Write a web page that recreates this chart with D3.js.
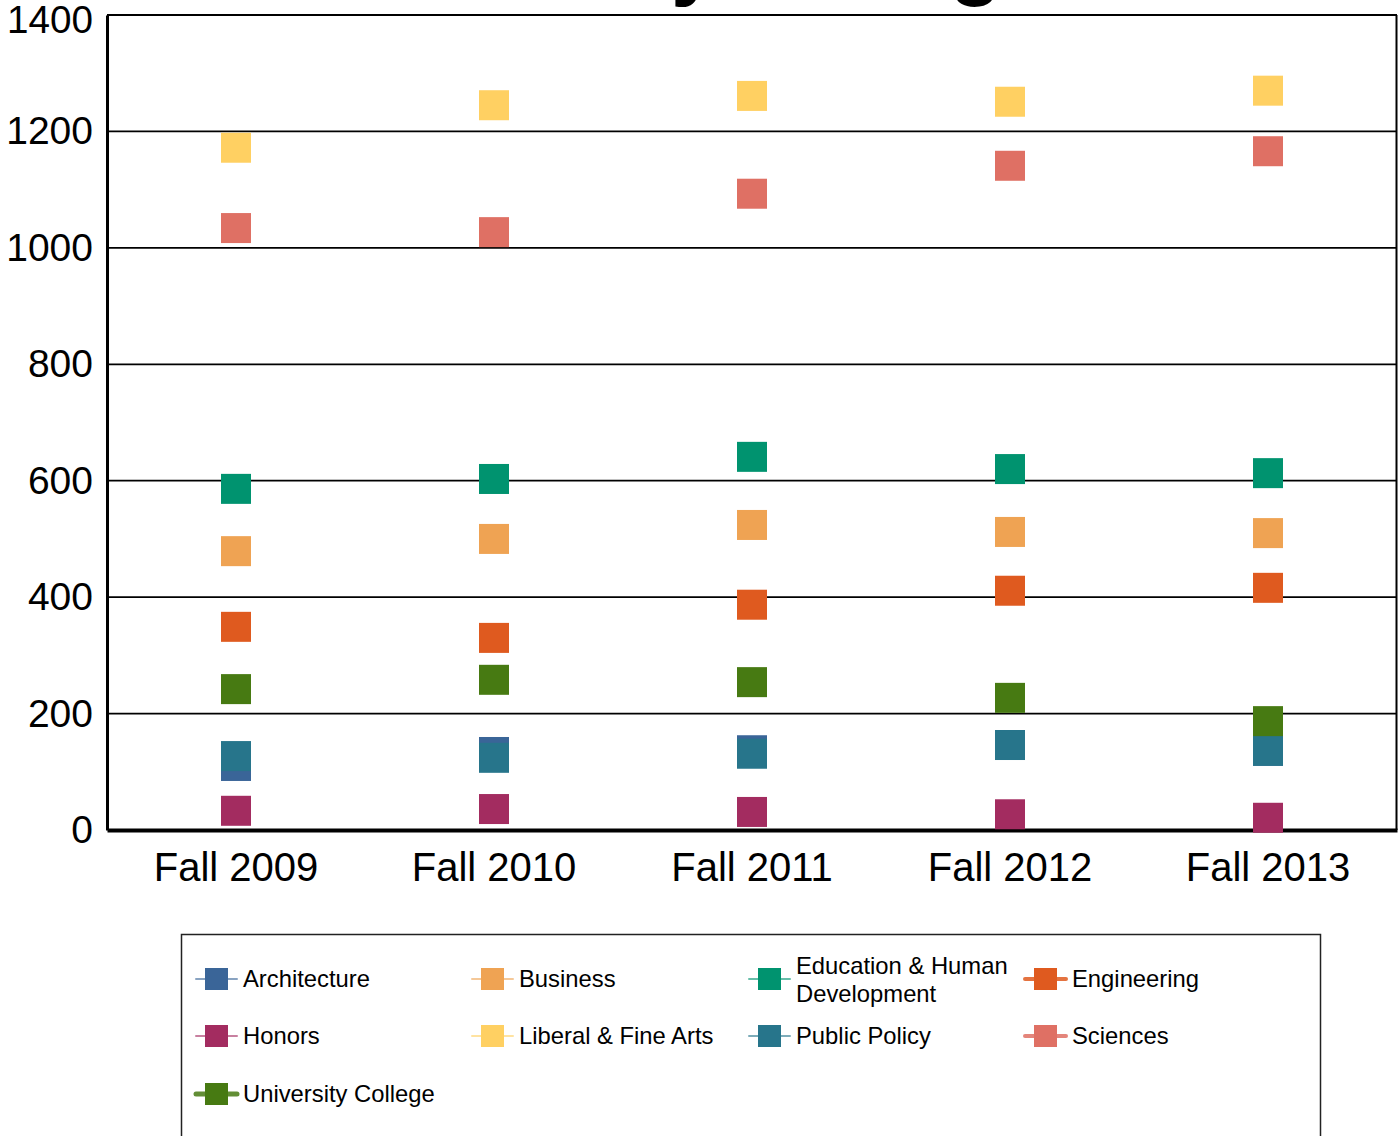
<!DOCTYPE html>
<html>
<head>
<meta charset="utf-8">
<script src="https://cdn.jsdelivr.net/npm/d3@7"></script>
<style>
  body { margin: 0; background: #fff; }
  text { font-family: "Liberation Sans", Arial, sans-serif; }
</style>
</head>
<body>
<div id="chart"></div>
<script>
// Chart data
var terms = ["Fall 2009", "Fall 2010", "Fall 2011", "Fall 2012", "Fall 2013"];
var yTicks = [0, 200, 400, 600, 800, 1000, 1200, 1400];

var architecture = [110, 134, 137, 146, 136];
var business     = [479, 500, 524, 512, 510];
var education    = [586, 603, 641, 620, 613];
var engineering  = [349, 330, 387, 411, 416];
var honors       = [33, 36, 31, 27, 21];
var liberalArts  = [1172, 1245, 1261, 1251, 1270];
var publicPolicy = [127, 124, 131, 146, 136];
var sciences     = [1034, 1027, 1093, 1141, 1166];
var univCollege  = [242, 258, 254, 227, 187];

var seriesNames  = ["Architecture", "Business", "Education & Human Development", "Engineering",
                    "Honors", "Liberal & Fine Arts", "Public Policy", "Sciences", "University College"];
var seriesValues = [architecture, business, education, engineering,
                    honors, liberalArts, publicPolicy, sciences, univCollege];
var seriesColors = ["#3a6598", "#efa353", "#00936f", "#df5a1f",
                    "#a32c60", "#ffd062", "#27758b", "#df7064", "#477a12"];
var legendLineWidth = [2, 2, 2, 4, 2, 2, 2, 4, 5];

var width = 1398, height = 1136;
var margin = { left: 107, right: 1, top: 15, bottom: 306 };

var svg = d3.select("#chart").append("svg")
    .attr("width", width)
    .attr("height", height);

var x = d3.scaleBand()
    .domain(terms)
    .range([margin.left, width - margin.right]);

var y = d3.scaleLinear()
    .domain([0, 1400])
    .range([height - margin.bottom, margin.top]);

// Title (mostly above the visible area, as in the original)
svg.append("text")
    .attr("x", 1049)
    .attr("y", -11)
    .attr("text-anchor", "end")
    .style("font-size", "85px")
    .style("font-weight", "bold")
    .text("Enrollment by College");

// Gridlines
svg.append("g")
    .selectAll("line")
    .data(yTicks.slice(1))
    .enter().append("line")
    .attr("x1", margin.left)
    .attr("x2", width - margin.right)
    .attr("y1", function (d) { return y(d); })
    .attr("y2", function (d) { return y(d); })
    .attr("stroke", "#000")
    .attr("stroke-width", 1.8);

// Right border
svg.append("line")
    .attr("x1", width - 1.5).attr("x2", width - 1.5)
    .attr("y1", y(1400)).attr("y2", y(0))
    .attr("stroke", "#000")
    .attr("stroke-width", 2);

// Y axis
var yAxis = svg.append("g")
    .attr("transform", "translate(" + margin.left + ",0)")
    .call(d3.axisLeft(y).tickValues(yTicks).tickFormat(d3.format("d")).tickSize(0).tickPadding(14));
yAxis.select(".domain").attr("stroke", "#000").attr("stroke-width", 3);
yAxis.selectAll("text")
    .style("font-size", "39px")
    .attr("fill", "#000")
    .attr("font-family", null);
// top label is squeezed a little in the original
yAxis.selectAll("text").filter(function (d) { return d === 1400; })
    .attr("textLength", 86).attr("lengthAdjust", "spacingAndGlyphs")
    .attr("dy", "0.45em");

// X axis
var xAxis = svg.append("g")
    .attr("transform", "translate(0," + y(0) + ")")
    .call(d3.axisBottom(x).tickSize(0).tickPadding(23));
xAxis.select(".domain").attr("stroke", "#000").attr("stroke-width", 4);
xAxis.selectAll("text")
    .style("font-size", "40px")
    .attr("fill", "#000")
    .attr("font-family", null);

// Markers
var size = 30;
seriesValues.forEach(function (vals, i) {
    svg.append("g")
        .selectAll("rect")
        .data(vals)
        .enter().append("rect")
        .attr("x", function (d, j) { return x(terms[j]) + x.bandwidth() / 2 - size / 2; })
        .attr("y", function (d) { return y(d) - size / 2; })
        .attr("width", size)
        .attr("height", size)
        .attr("fill", seriesColors[i]);
});

// Legend
var legend = svg.append("g");
legend.append("rect")
    .attr("x", 181.5)
    .attr("y", 934.5)
    .attr("width", 1139)
    .attr("height", 260)
    .attr("fill", "none")
    .attr("stroke", "#222")
    .attr("stroke-width", 1.5);

var colX = [196, 472, 749, 1025];
var rowY = [979, 1036, 1094];

seriesNames.forEach(function (name, i) {
    var gx = colX[i % 4], gy = rowY[Math.floor(i / 4)];
    var item = legend.append("g").attr("transform", "translate(" + gx + "," + gy + ")");
    item.append("line")
        .attr("x1", 0).attr("x2", 41)
        .attr("y1", 0).attr("y2", 0)
        .attr("stroke", seriesColors[i])
        .attr("stroke-opacity", legendLineWidth[i] > 2 ? 0.85 : 0.6)
        .attr("stroke-linecap", "round")
        .attr("stroke-width", legendLineWidth[i]);
    item.append("rect")
        .attr("x", 9).attr("y", -11)
        .attr("width", 23).attr("height", 22)
        .attr("fill", seriesColors[i]);
    var label = item.append("text")
        .attr("x", 47)
        .attr("y", 0)
        .style("font-size", "23.8px")
        .attr("fill", "#000");
    if (name === "Education & Human Development") {
        label.append("tspan").attr("x", 47).attr("dy", "-0.2em").text("Education & Human");
        label.append("tspan").attr("x", 47).attr("dy", "1.15em").text("Development");
    } else {
        label.attr("dy", "0.35em").text(name);
    }
});
</script>
</body>
</html>
